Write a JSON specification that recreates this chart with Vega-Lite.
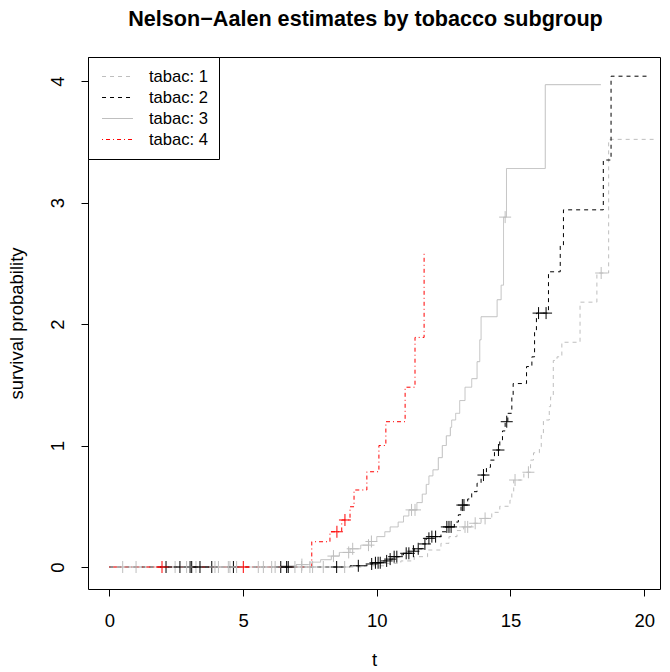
{
  "$schema": "https://vega.github.io/schema/vega-lite/v6.json",
  "width": 572,
  "height": 532,
  "autosize": {"type": "none"},
  "padding": {"left": 88, "top": 57, "right": 10, "bottom": 83},
  "background": "white",
  "title": {
    "text": "Nelson−Aalen estimates by tobacco subgroup",
    "font": "Liberation Sans",
    "fontSize": 21.6,
    "fontWeight": "bold",
    "color": "black",
    "anchor": "middle",
    "dx": -8.5,
    "offset": 25.5
  },
  "config": {
    "view": {"stroke": "black", "strokeWidth": 1},
    "axis": {
      "labelFont": "Liberation Sans",
      "titleFont": "Liberation Sans",
      "labelFontSize": 18.5,
      "titleFontSize": 18.5,
      "titleFontWeight": "normal",
      "labelColor": "black",
      "titleColor": "black",
      "tickColor": "black",
      "tickWidth": 1,
      "tickSize": 7,
      "domain": false,
      "grid": false
    },
    "legend": {
      "labelFont": "Liberation Sans",
      "labelFontSize": 16.6,
      "labelColor": "black"
    }
  },
  "datasets": {
    "steps": [
      {"tabac": "1", "t": 0, "hazard": 0},
      {"tabac": "1", "t": 9.5, "hazard": 0.01},
      {"tabac": "1", "t": 10.3, "hazard": 0.03},
      {"tabac": "1", "t": 10.9, "hazard": 0.05},
      {"tabac": "1", "t": 11.4, "hazard": 0.085},
      {"tabac": "1", "t": 11.9, "hazard": 0.14},
      {"tabac": "1", "t": 12.4, "hazard": 0.195},
      {"tabac": "1", "t": 12.7, "hazard": 0.25},
      {"tabac": "1", "t": 13.0, "hazard": 0.3},
      {"tabac": "1", "t": 13.25, "hazard": 0.33},
      {"tabac": "1", "t": 13.55, "hazard": 0.36},
      {"tabac": "1", "t": 13.9, "hazard": 0.4},
      {"tabac": "1", "t": 14.3, "hazard": 0.45},
      {"tabac": "1", "t": 14.6, "hazard": 0.5},
      {"tabac": "1", "t": 14.98, "hazard": 0.55},
      {"tabac": "1", "t": 15.05, "hazard": 0.62},
      {"tabac": "1", "t": 15.12, "hazard": 0.716},
      {"tabac": "1", "t": 15.5, "hazard": 0.78},
      {"tabac": "1", "t": 15.75, "hazard": 0.88},
      {"tabac": "1", "t": 15.86, "hazard": 0.94},
      {"tabac": "1", "t": 16.08, "hazard": 0.99},
      {"tabac": "1", "t": 16.15, "hazard": 1.1},
      {"tabac": "1", "t": 16.23, "hazard": 1.21},
      {"tabac": "1", "t": 16.45, "hazard": 1.32},
      {"tabac": "1", "t": 16.5, "hazard": 1.4},
      {"tabac": "1", "t": 16.6, "hazard": 1.7},
      {"tabac": "1", "t": 16.74, "hazard": 1.73},
      {"tabac": "1", "t": 16.92, "hazard": 1.85},
      {"tabac": "1", "t": 17.6, "hazard": 2.18},
      {"tabac": "1", "t": 18.23, "hazard": 2.42},
      {"tabac": "1", "t": 18.67, "hazard": 3.52},
      {"tabac": "1", "t": 20.35, "hazard": 3.52},

      {"tabac": "2", "t": 0, "hazard": 0},
      {"tabac": "2", "t": 9.0, "hazard": 0.01},
      {"tabac": "2", "t": 9.63, "hazard": 0.025},
      {"tabac": "2", "t": 9.85, "hazard": 0.035},
      {"tabac": "2", "t": 10.2, "hazard": 0.05},
      {"tabac": "2", "t": 10.45, "hazard": 0.065},
      {"tabac": "2", "t": 10.6, "hazard": 0.085},
      {"tabac": "2", "t": 10.9, "hazard": 0.1},
      {"tabac": "2", "t": 11.0, "hazard": 0.113},
      {"tabac": "2", "t": 11.3, "hazard": 0.13},
      {"tabac": "2", "t": 11.4, "hazard": 0.15},
      {"tabac": "2", "t": 11.7, "hazard": 0.19},
      {"tabac": "2", "t": 11.85, "hazard": 0.236},
      {"tabac": "2", "t": 12.0, "hazard": 0.25},
      {"tabac": "2", "t": 12.4, "hazard": 0.29},
      {"tabac": "2", "t": 12.6, "hazard": 0.33},
      {"tabac": "2", "t": 12.9, "hazard": 0.37},
      {"tabac": "2", "t": 13.05, "hazard": 0.43},
      {"tabac": "2", "t": 13.15, "hazard": 0.51},
      {"tabac": "2", "t": 13.4, "hazard": 0.56},
      {"tabac": "2", "t": 13.55, "hazard": 0.62},
      {"tabac": "2", "t": 13.75, "hazard": 0.69},
      {"tabac": "2", "t": 13.9, "hazard": 0.757},
      {"tabac": "2", "t": 14.1, "hazard": 0.82},
      {"tabac": "2", "t": 14.25, "hazard": 0.88},
      {"tabac": "2", "t": 14.4, "hazard": 0.963},
      {"tabac": "2", "t": 14.6, "hazard": 1.04},
      {"tabac": "2", "t": 14.7, "hazard": 1.12},
      {"tabac": "2", "t": 14.8, "hazard": 1.196},
      {"tabac": "2", "t": 14.9, "hazard": 1.265},
      {"tabac": "2", "t": 15.05, "hazard": 1.4},
      {"tabac": "2", "t": 15.1, "hazard": 1.51},
      {"tabac": "2", "t": 15.6, "hazard": 1.65},
      {"tabac": "2", "t": 15.8, "hazard": 1.73},
      {"tabac": "2", "t": 15.9, "hazard": 1.95},
      {"tabac": "2", "t": 15.97, "hazard": 2.09},
      {"tabac": "2", "t": 16.42, "hazard": 2.43},
      {"tabac": "2", "t": 16.86, "hazard": 2.65},
      {"tabac": "2", "t": 16.98, "hazard": 2.94},
      {"tabac": "2", "t": 18.47, "hazard": 3.35},
      {"tabac": "2", "t": 18.76, "hazard": 4.04},
      {"tabac": "2", "t": 20.23, "hazard": 4.04},

      {"tabac": "3", "t": 0, "hazard": 0},
      {"tabac": "3", "t": 6.4, "hazard": 0.01},
      {"tabac": "3", "t": 7.0, "hazard": 0.02},
      {"tabac": "3", "t": 7.5, "hazard": 0.04},
      {"tabac": "3", "t": 7.9, "hazard": 0.06},
      {"tabac": "3", "t": 8.3, "hazard": 0.09},
      {"tabac": "3", "t": 8.6, "hazard": 0.12},
      {"tabac": "3", "t": 9.0, "hazard": 0.15},
      {"tabac": "3", "t": 9.4, "hazard": 0.18},
      {"tabac": "3", "t": 9.7, "hazard": 0.21},
      {"tabac": "3", "t": 10.0, "hazard": 0.25},
      {"tabac": "3", "t": 10.3, "hazard": 0.29},
      {"tabac": "3", "t": 10.5, "hazard": 0.33},
      {"tabac": "3", "t": 10.8, "hazard": 0.37},
      {"tabac": "3", "t": 11.0, "hazard": 0.42},
      {"tabac": "3", "t": 11.2, "hazard": 0.47},
      {"tabac": "3", "t": 11.5, "hazard": 0.53},
      {"tabac": "3", "t": 11.7, "hazard": 0.6},
      {"tabac": "3", "t": 11.85, "hazard": 0.68},
      {"tabac": "3", "t": 11.95, "hazard": 0.75},
      {"tabac": "3", "t": 12.1, "hazard": 0.8},
      {"tabac": "3", "t": 12.3, "hazard": 0.9},
      {"tabac": "3", "t": 12.45, "hazard": 1.0},
      {"tabac": "3", "t": 12.6, "hazard": 1.08},
      {"tabac": "3", "t": 12.75, "hazard": 1.15},
      {"tabac": "3", "t": 12.8, "hazard": 1.21},
      {"tabac": "3", "t": 12.95, "hazard": 1.265},
      {"tabac": "3", "t": 13.1, "hazard": 1.37},
      {"tabac": "3", "t": 13.3, "hazard": 1.48},
      {"tabac": "3", "t": 13.55, "hazard": 1.55},
      {"tabac": "3", "t": 13.75, "hazard": 1.69},
      {"tabac": "3", "t": 13.85, "hazard": 1.87},
      {"tabac": "3", "t": 13.9, "hazard": 2.06},
      {"tabac": "3", "t": 14.5, "hazard": 2.2},
      {"tabac": "3", "t": 14.65, "hazard": 2.32},
      {"tabac": "3", "t": 14.74, "hazard": 2.88},
      {"tabac": "3", "t": 14.85, "hazard": 3.28},
      {"tabac": "3", "t": 16.3, "hazard": 3.97},
      {"tabac": "3", "t": 18.38, "hazard": 3.97},

      {"tabac": "4", "t": 0, "hazard": 0},
      {"tabac": "4", "t": 7.57, "hazard": 0.208},
      {"tabac": "4", "t": 8.25, "hazard": 0.29},
      {"tabac": "4", "t": 8.69, "hazard": 0.387},
      {"tabac": "4", "t": 9.0, "hazard": 0.496},
      {"tabac": "4", "t": 9.15, "hazard": 0.634},
      {"tabac": "4", "t": 9.63, "hazard": 0.784},
      {"tabac": "4", "t": 10.08, "hazard": 1.0},
      {"tabac": "4", "t": 10.34, "hazard": 1.196},
      {"tabac": "4", "t": 11.06, "hazard": 1.48},
      {"tabac": "4", "t": 11.43, "hazard": 1.89},
      {"tabac": "4", "t": 11.77, "hazard": 2.58},
      {"tabac": "4", "t": 11.8, "hazard": 2.58}
    ],
    "censored": [
      {"tabac": "1", "t": 0.5, "hazard": 0},
      {"tabac": "1", "t": 2.46, "hazard": 0},
      {"tabac": "1", "t": 3.24, "hazard": 0},
      {"tabac": "1", "t": 4.08, "hazard": 0},
      {"tabac": "1", "t": 4.51, "hazard": 0},
      {"tabac": "1", "t": 5.57, "hazard": 0},
      {"tabac": "1", "t": 6.07, "hazard": 0},
      {"tabac": "1", "t": 6.94, "hazard": 0},
      {"tabac": "1", "t": 7.19, "hazard": 0},
      {"tabac": "1", "t": 7.5, "hazard": 0},
      {"tabac": "1", "t": 7.6, "hazard": 0},
      {"tabac": "1", "t": 8.0, "hazard": 0},
      {"tabac": "1", "t": 8.8, "hazard": 0},
      {"tabac": "1", "t": 13.3, "hazard": 0.33},
      {"tabac": "1", "t": 13.4, "hazard": 0.33},
      {"tabac": "1", "t": 13.68, "hazard": 0.36},
      {"tabac": "1", "t": 14.05, "hazard": 0.4},
      {"tabac": "1", "t": 15.17, "hazard": 0.716},
      {"tabac": "1", "t": 15.67, "hazard": 0.78},
      {"tabac": "1", "t": 18.39, "hazard": 2.42},

      {"tabac": "2", "t": 2.12, "hazard": 0},
      {"tabac": "2", "t": 2.64, "hazard": 0},
      {"tabac": "2", "t": 3.02, "hazard": 0},
      {"tabac": "2", "t": 3.08, "hazard": 0},
      {"tabac": "2", "t": 3.39, "hazard": 0},
      {"tabac": "2", "t": 3.83, "hazard": 0},
      {"tabac": "2", "t": 4.64, "hazard": 0},
      {"tabac": "2", "t": 6.41, "hazard": 0},
      {"tabac": "2", "t": 6.63, "hazard": 0},
      {"tabac": "2", "t": 6.69, "hazard": 0},
      {"tabac": "2", "t": 8.5, "hazard": 0},
      {"tabac": "2", "t": 9.31, "hazard": 0.01},
      {"tabac": "2", "t": 9.81, "hazard": 0.025},
      {"tabac": "2", "t": 9.95, "hazard": 0.035},
      {"tabac": "2", "t": 10.05, "hazard": 0.035},
      {"tabac": "2", "t": 10.13, "hazard": 0.035},
      {"tabac": "2", "t": 10.37, "hazard": 0.05},
      {"tabac": "2", "t": 10.5, "hazard": 0.065},
      {"tabac": "2", "t": 10.65, "hazard": 0.085},
      {"tabac": "2", "t": 10.75, "hazard": 0.085},
      {"tabac": "2", "t": 11.1, "hazard": 0.113},
      {"tabac": "2", "t": 11.2, "hazard": 0.113},
      {"tabac": "2", "t": 11.37, "hazard": 0.13},
      {"tabac": "2", "t": 11.55, "hazard": 0.15},
      {"tabac": "2", "t": 11.8, "hazard": 0.19},
      {"tabac": "2", "t": 11.95, "hazard": 0.236},
      {"tabac": "2", "t": 12.06, "hazard": 0.25},
      {"tabac": "2", "t": 12.2, "hazard": 0.25},
      {"tabac": "2", "t": 12.62, "hazard": 0.33},
      {"tabac": "2", "t": 12.7, "hazard": 0.33},
      {"tabac": "2", "t": 12.78, "hazard": 0.33},
      {"tabac": "2", "t": 13.2, "hazard": 0.51},
      {"tabac": "2", "t": 13.26, "hazard": 0.51},
      {"tabac": "2", "t": 13.99, "hazard": 0.757},
      {"tabac": "2", "t": 14.55, "hazard": 0.963},
      {"tabac": "2", "t": 14.86, "hazard": 1.196},
      {"tabac": "2", "t": 16.05, "hazard": 2.09},
      {"tabac": "2", "t": 16.33, "hazard": 2.09},

      {"tabac": "3", "t": 1.0, "hazard": 0},
      {"tabac": "3", "t": 2.89, "hazard": 0},
      {"tabac": "3", "t": 3.95, "hazard": 0},
      {"tabac": "3", "t": 4.45, "hazard": 0},
      {"tabac": "3", "t": 4.76, "hazard": 0},
      {"tabac": "3", "t": 5.76, "hazard": 0},
      {"tabac": "3", "t": 6.2, "hazard": 0},
      {"tabac": "3", "t": 7.2, "hazard": 0.02},
      {"tabac": "3", "t": 8.38, "hazard": 0.09},
      {"tabac": "3", "t": 8.95, "hazard": 0.12},
      {"tabac": "3", "t": 9.1, "hazard": 0.15},
      {"tabac": "3", "t": 9.69, "hazard": 0.18},
      {"tabac": "3", "t": 9.8, "hazard": 0.21},
      {"tabac": "3", "t": 11.3, "hazard": 0.47},
      {"tabac": "3", "t": 11.43, "hazard": 0.47},
      {"tabac": "3", "t": 14.8, "hazard": 2.88},

      {"tabac": "4", "t": 1.97, "hazard": 0},
      {"tabac": "4", "t": 5.01, "hazard": 0},
      {"tabac": "4", "t": 8.51, "hazard": 0.29},
      {"tabac": "4", "t": 8.81, "hazard": 0.387}
    ]
  },
  "layer": [
    {
      "data": {"name": "steps"},
      "mark": {"type": "line", "interpolate": "step-after", "strokeWidth": 1, "clip": true},
      "encoding": {
        "x": {
          "field": "t",
          "type": "quantitative",
          "scale": {"domain": [-0.797, 20.59], "nice": false, "zero": false},
          "axis": {
            "values": [0, 5, 10, 15, 20],
            "title": "t",
            "labelPadding": 15,
            "titlePadding": 21
          }
        },
        "y": {
          "field": "hazard",
          "type": "quantitative",
          "scale": {"domain": [-0.181, 4.198], "nice": false, "zero": false},
          "axis": {
            "values": [0, 1, 2, 3, 4],
            "format": "d",
            "title": "survival probability",
            "labelAngle": 270,
            "labelAlign": "center",
            "labelBaseline": "bottom",
            "labelPadding": 13.5,
            "titlePadding": 22.5
          }
        },
        "color": {
          "field": "tabac",
          "type": "nominal",
          "scale": {"domain": ["1", "2", "3", "4"], "range": ["#BEBEBE", "#000000", "#BEBEBE", "#FF0000"]},
          "legend": {
            "title": null,
            "orient": "top-left",
            "offset": 0,
            "padding": 10,
            "strokeColor": "black",
            "fillColor": "white",
            "cornerRadius": 0,
            "symbolType": "M-1.72,0H1.72",
            "symbolSize": 324,
            "symbolStrokeWidth": 1,
            "symbolOffset": 10,
            "labelOffset": 22,
            "rowPadding": 2,
            "labelExpr": "'tabac: ' + datum.label",
            "encode": {
              "symbols": {
                "update": {
                  "stroke": {"scale": "color", "field": "value"},
                  "strokeDash": {"scale": "strokeDash", "field": "value"},
                  "opacity": {"value": 1}
                }
              }
            }
          }
        },
        "strokeDash": {
          "field": "tabac",
          "type": "nominal",
          "scale": {"domain": ["1", "2", "3", "4"], "range": [[4, 4], [4, 4], [1, 0], [1, 3, 4, 3]]},
          "legend": null
        }
      }
    },
    {
      "data": {"name": "censored"},
      "mark": {"type": "point", "shape": "M-1,0H1M0,-1V1", "size": 144, "filled": false, "strokeWidth": 1, "opacity": 1, "clip": true},
      "encoding": {
        "x": {"field": "t", "type": "quantitative"},
        "y": {"field": "hazard", "type": "quantitative"},
        "stroke": {
          "field": "tabac",
          "type": "nominal",
          "scale": {"domain": ["1", "2", "3", "4"], "range": ["#BEBEBE", "#000000", "#BEBEBE", "#FF0000"]},
          "legend": null
        }
      }
    }
  ]
}
